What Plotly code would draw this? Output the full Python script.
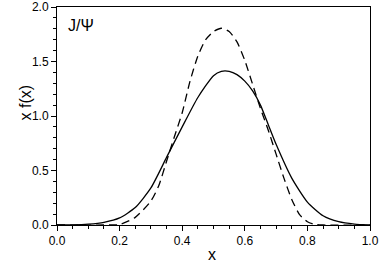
import plotly.graph_objects as go

# Solid curve
solid_x = [0.00, 0.05, 0.10, 0.15, 0.20, 0.25, 0.30, 0.35, 0.40, 0.45, 0.50, 0.525, 0.55,
           0.575, 0.60, 0.625, 0.65, 0.675, 0.70, 0.75, 0.80, 0.85, 0.90, 0.95, 1.00]
solid_y = [0.0, 0.001, 0.008, 0.025, 0.065, 0.16, 0.34, 0.62, 0.90, 1.17, 1.37, 1.41, 1.41,
           1.38, 1.32, 1.23, 1.10, 0.92, 0.74, 0.43, 0.21, 0.085, 0.03, 0.008, 0.0]

# Dashed curve
dash_x = [0.00, 0.15, 0.20, 0.25, 0.30, 0.325, 0.35, 0.375, 0.40, 0.425, 0.45, 0.475, 0.50,
          0.525, 0.55, 0.575, 0.60, 0.625, 0.65, 0.675, 0.70, 0.725, 0.75, 0.775, 0.80,
          0.825, 0.85, 1.00]
dash_y = [0.0, 0.0, 0.005, 0.07, 0.22, 0.36, 0.585, 0.81, 1.03, 1.32, 1.55, 1.70, 1.775,
          1.805, 1.775, 1.68, 1.51, 1.29, 1.07, 0.87, 0.65, 0.43, 0.235, 0.095, 0.03,
          0.005, 0.0, 0.0]

x_ticks = [0.0, 0.2, 0.4, 0.6, 0.8, 1.0]
y_ticks = [0.0, 0.5, 1.0, 1.5, 2.0]

FONT = "Liberation Sans, Arial, sans-serif"

W, H = 382, 278
ML, MR, MT, MB = 57, 12, 7, 53

fig = go.Figure()
fig.add_trace(go.Scatter(x=solid_x, y=solid_y, mode="lines",
                         line=dict(color="black", width=1.3, shape="spline", smoothing=0.6),
                         showlegend=False, hoverinfo="skip"))
fig.add_trace(go.Scatter(x=dash_x, y=dash_y, mode="lines",
                         line=dict(color="black", width=1.3, dash="8px,5px", shape="spline", smoothing=0.6),
                         showlegend=False, hoverinfo="skip"))

axis_common = dict(showgrid=False, zeroline=False, showline=True, linecolor="black",
                   linewidth=1, mirror=True, ticks="outside", ticklen=5, tickcolor="black",
                   automargin=False,
                   tickfont=dict(family=FONT, size=12, color="black"))

fig.update_xaxes(range=[0, 1], tickvals=x_ticks, ticktext=[f"{v:.1f}" for v in x_ticks],
                 minor=dict(dtick=0.05, tick0=0, ticks="outside", ticklen=3, tickcolor="black"),
                 **axis_common)
fig.update_yaxes(range=[0, 2], tickvals=y_ticks, ticktext=[f"{v:.1f}" for v in y_ticks],
                 minor=dict(dtick=0.1, tick0=0, ticks="outside", ticklen=3, tickcolor="black"),
                 **axis_common)

fig.add_annotation(x=0.03, y=1.83, xref="x", yref="y", text="J/Ψ", showarrow=False,
                   xanchor="left", yanchor="middle",
                   font=dict(family=FONT, size=16, color="black"))

pw, ph = W - ML - MR, H - MT - MB
# axis titles at pixel positions of the reference
fig.add_annotation(x=(212 - ML) / pw, y=(H - MB - 265) / ph, xref="paper", yref="paper",
                   text="x", showarrow=False, font=dict(family=FONT, size=16, color="black"))
fig.add_annotation(x=(14 - ML) / pw, y=(H - MB - 103) / ph, xref="paper", yref="paper",
                   text="x f(x)", showarrow=False, textangle=-90,
                   font=dict(family=FONT, size=16, color="black"))

fig.update_layout(width=W, height=H, margin=dict(l=ML, r=MR, t=MT, b=MB),
                  plot_bgcolor="white", paper_bgcolor="white", hovermode=False)

fig.write_html("out.html", config={"displayModeBar": False, "staticPlot": True},
               post_script="document.body.style.margin='0';document.body.style.padding='0';")
